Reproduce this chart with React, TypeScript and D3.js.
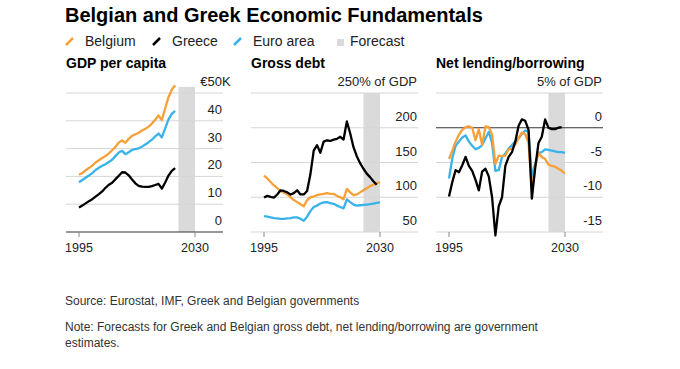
import React from "react";
import * as d3 from "d3";

// series metadata
const seriesNames = ["Belgium", "Greece", "Euro area"];
const seriesColors = ["#f6a03a", "#000000", "#38b3ea"];

// GDP per capita, € thousands, 1995-2024
const gdpStart = 1995;
const gdpBelgium = [20.6, 21.2, 22.2, 23.0, 23.9, 25.0, 25.8, 26.6, 27.3, 28.3, 29.4, 30.6, 32.2, 32.9, 32.1, 33.5, 34.6, 35.1, 35.7, 36.5, 37.1, 37.9, 39.0, 40.4, 41.9, 40.3, 44.5, 48.5, 51.2, 52.8];
const gdpGreece = [8.8, 9.5, 10.3, 11.1, 11.8, 12.7, 13.6, 14.6, 15.9, 17.0, 17.7, 19.0, 20.2, 21.5, 21.4, 20.4, 18.9, 17.5, 16.6, 16.3, 16.2, 16.2, 16.5, 16.9, 17.3, 15.6, 17.8, 20.3, 22.0, 23.0];
const gdpEuro = [17.9, 18.7, 19.5, 20.3, 21.2, 22.3, 23.1, 23.8, 24.4, 25.2, 26.0, 27.3, 28.6, 29.2, 28.0, 28.7, 29.5, 29.8, 30.1, 30.7, 31.5, 32.3, 33.2, 34.4, 35.4, 34.0, 37.3, 40.5, 42.5, 43.6];

// Gross debt, % of GDP, 1995-2030 (Greece to 2029)
const debtStart = 1995;
const debtBelgium = [131, 127, 122, 117, 113, 109, 107, 104, 100, 96, 93, 90, 87, 96, 100, 101, 103, 104, 105, 106, 105, 105, 102, 100, 97, 112, 107, 103, 104, 107, 110, 113, 116, 118, 120, 122];
const debtGreece = [99.5, 102, 100.5, 99.5, 104, 110, 109, 107, 104, 106, 110, 104, 104, 109, 133, 167, 175, 164, 180, 182, 181, 183, 184, 187, 183, 209, 192, 172, 159, 149, 141, 134, 129, 123, 118];
const debtEuro = [73, 72, 71, 70, 69.5, 69, 69, 69.5, 70, 71, 71, 69, 66, 72, 80, 86, 88, 91, 92.5, 93, 91.5, 90.5, 88, 86, 84, 97, 93, 89.5, 88, 88.5, 89, 89.5, 90, 91, 92, 92.5];

// Net lending/borrowing, % of GDP, 1995-2030 (Greece to 2029)
const netStart = 1995;
const netBelgium = [-4.5, -3.3, -2.0, -1.0, -0.3, 0.1, 0.2, 0.0, -1.8, -0.2, -2.5, 0.2, 0.1, -1.0, -5.2, -4.0, -4.1, -4.0, -3.1, -3.0, -2.4, -1.5, -0.7, -0.9, -2.2, -9.0, -5.5, -3.6, -4.2, -4.5, -5.3, -5.5, -5.6, -5.9, -6.2, -6.6];
const netGreece = [-9.9, -7.8, -6.1, -6.4, -5.4, -4.2, -5.5, -6.2, -7.5, -9.0, -6.3, -5.9, -7.0, -10.0, -15.5, -11.3, -10.0, -5.5, -4.2, -3.5, -2.0, 0.3, 1.2, 1.0, -0.3, -10.2, -5.8, -2.2, -1.3, 1.2, 0.0, -0.2, -0.2, 0.0, 0.1];
const netEuro = [-7.3, -4.4, -2.6, -2.0, -1.4, -1.1, -2.0, -2.6, -3.1, -2.9, -2.5, -1.5, -0.6, -2.2, -6.2, -6.1, -4.2, -3.7, -3.0, -2.5, -2.0, -1.5, -0.9, -0.4, -0.6, -7.1, -5.2, -3.6, -3.5, -3.1, -3.2, -3.3, -3.4, -3.5, -3.5, -3.6];

// axes
const xDomain = [1995, 2030];
const xTicks = [1995, 2030];
const forecastRange = [2025, 2030];

const panelTitles = ["GDP per capita", "Gross debt", "Net lending/borrowing"];
const panelDomains = [[0, 52.2], [50, 250], [-15, 5]];
const panelTicks = [[0, 10, 20, 30, 40], [50, 100, 150, 200], [-15, -10, -5, 0]];
const panelTopTick = [50, 250, 5];
const panelTopLabel = [["€50", "K"], ["250% of GDP", ""], ["5% of GDP", ""]];

const font = "'Liberation Sans', Arial, Helvetica, sans-serif";

type Series = { start: number; values: number[]; color: string };

const panelSeries: Series[][] = [
  [
    { start: gdpStart, values: gdpEuro, color: seriesColors[2] },
    { start: gdpStart, values: gdpBelgium, color: seriesColors[0] },
    { start: gdpStart, values: gdpGreece, color: seriesColors[1] },
  ],
  [
    { start: debtStart, values: debtEuro, color: seriesColors[2] },
    { start: debtStart, values: debtBelgium, color: seriesColors[0] },
    { start: debtStart, values: debtGreece, color: seriesColors[1] },
  ],
  [
    { start: netStart, values: netEuro, color: seriesColors[2] },
    { start: netStart, values: netBelgium, color: seriesColors[0] },
    { start: netStart, values: netGreece, color: seriesColors[1] },
  ],
];

const Panel = ({ i }: { i: number }) => {
  const left = 66 + i * 185;
  const gridRight = left + (i === 0 ? 157 : 167);
  const x = d3.scaleLinear().domain(xDomain).range([left + 13, left + 129]);
  const [d0] = panelDomains[i];
  const y = d3
    .scaleLinear()
    .domain([d0, panelTopTick[i]])
    .range([232, 93]);
  const line = d3
    .line<number>()
    .x((_, k) => x(k))
    .y((v) => y(v));
  const bandTop = y(panelDomains[i][1]);
  const baseY = y(d0);

  return (
    <g>
      <text x={left} y={68} fontFamily={font} fontWeight="bold" fontSize={14} fill="#000">
        {panelTitles[i]}
      </text>
      <rect
        x={x(forecastRange[0])}
        y={bandTop}
        width={x(forecastRange[1]) - x(forecastRange[0])}
        height={baseY - bandTop}
        fill="#dadada"
      />
      {[...panelTicks[i], panelTopTick[i]].map((t) => (
        <line
          key={t}
          x1={left}
          x2={gridRight}
          y1={y(t)}
          y2={y(t)}
          stroke={t === 0 ? "#333" : "#d6d6d6"}
          strokeWidth={t === 0 ? 1.2 : 1}
        />
      ))}
      {panelTicks[i].map((t) => (
        <text
          key={t}
          x={gridRight - 1}
          y={y(t) - 7}
          textAnchor="end"
          fontFamily={font}
          fontSize={13}
          fill="#222"
        >
          {t}
        </text>
      ))}
      <text x={gridRight - 1} y={y(panelTopTick[i]) - 7} textAnchor="end" fontFamily={font} fontSize={13} fill="#222">
        {panelTopLabel[i][0]}
      </text>
      {panelTopLabel[i][1] && (
        <text x={gridRight - 1} y={y(panelTopTick[i]) - 7} fontFamily={font} fontSize={13} fill="#222">
          {panelTopLabel[i][1]}
        </text>
      )}
      {xTicks.map((t) => (
        <g key={t}>
          <line x1={x(t)} x2={x(t)} y1={baseY} y2={baseY + 5} stroke="#888" />
          <text x={x(t)} y={252} textAnchor="middle" fontFamily={font} fontSize={12.5} fill="#222">
            {t}
          </text>
        </g>
      ))}
      {panelSeries[i].map((s, k) => (
        <path
          key={k}
          d={
            d3
              .line<number>()
              .x((_, j) => x(s.start + j))
              .y((v) => y(v))(s.values) || ""
          }
          fill="none"
          stroke={s.color}
          strokeWidth={2.3}
          strokeLinejoin="round"
        />
      ))}
    </g>
  );
};

const legendX = [66, 153, 234];

export default function App() {
  return (
    <svg
      width={680}
      height={369}
      style={{ position: "absolute", left: 0, top: 0, background: "#fff" }}
    >
      <text x={65} y={22} fontFamily={font} fontWeight="bold" fontSize={20} fill="#000">
        Belgian and Greek Economic Fundamentals
      </text>
      {seriesNames.map((n, k) => (
        <g key={n}>
          <line
            x1={legendX[k]}
            y1={45}
            x2={legendX[k] + 7}
            y2={38}
            stroke={seriesColors[k]}
            strokeWidth={2.5}
          />
          <text x={legendX[k] + 19} y={46} fontFamily={font} fontSize={14} fill="#222">
            {n}
          </text>
        </g>
      ))}
      <rect x={337} y={39} width={7} height={7} fill="#dadada" />
      <text x={350} y={46} fontFamily={font} fontSize={14} fill="#222">
        Forecast
      </text>
      {[0, 1, 2].map((i) => (
        <Panel key={i} i={i} />
      ))}
      <text x={65} y={305} fontFamily={font} fontSize={12} fill="#333">
        Source: Eurostat, IMF, Greek and Belgian governments
      </text>
      <text x={65} y={331} fontFamily={font} fontSize={12} fill="#333">
        Note: Forecasts for Greek and Belgian gross debt, net lending/borrowing are government
      </text>
      <text x={65} y={347} fontFamily={font} fontSize={12} fill="#333">
        estimates.
      </text>
    </svg>
  );
}
